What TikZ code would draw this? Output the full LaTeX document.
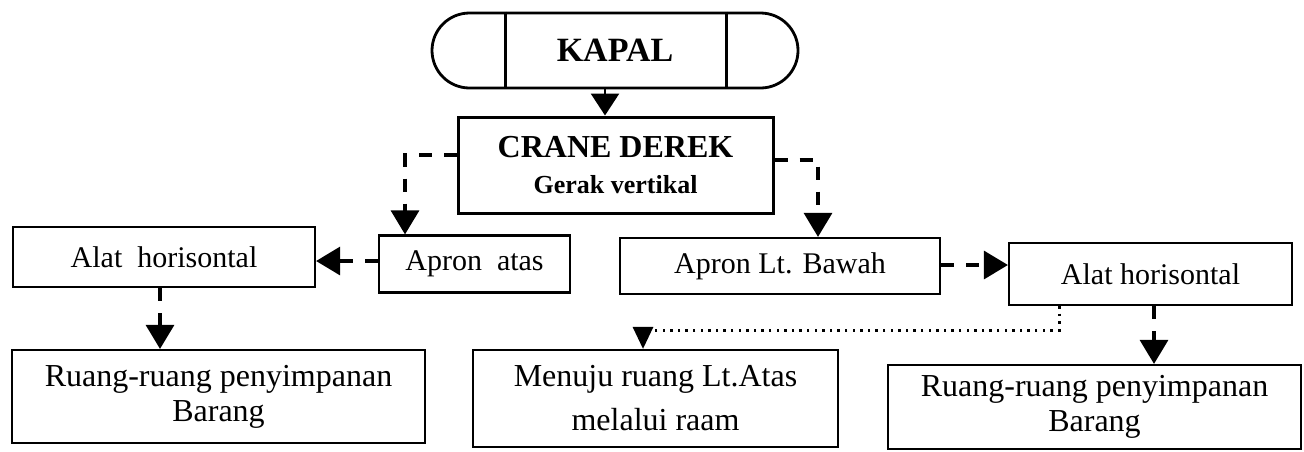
\documentclass[tikz,border=0pt]{standalone}
\usepackage{fontspec}
\setmainfont{Liberation Serif}
\usetikzlibrary{arrows.meta,calc}
\begin{document}
\begin{tikzpicture}[x=0.5pt,y=-0.5pt,
  box/.style={draw, line width=1.1pt, inner sep=0pt, align=center,
    font=\fontsize{15}{18}\selectfont},
  bigtext/.style={font=\fontsize{16}{17.5}\selectfont},
  dsh/.style={line width=1.6pt, dash pattern=on 6.5pt off 6pt,
    -{Triangle[width=14pt,length=12pt]}},
  dots/.style={line width=1.5pt, dash pattern=on 1.2pt off 2.6pt,
    -{Triangle[width=10pt,length=11pt]}},
  solidarr/.style={line width=1.4pt, -{Triangle[width=14pt,length=11pt]}}]
\useasboundingbox (0,0) rectangle (1304,451);

% nodes
\node[box, line width=1.4pt, rounded corners=18.75pt, minimum width=183pt,
  minimum height=37.5pt, font=\fontsize{17}{20}\selectfont\bfseries]
  (kapal) at (615,50.5) {KAPAL};
\draw[line width=1.4pt] ([xshift=37.5pt]kapal.north west) -- ([xshift=37.5pt]kapal.south west);
\draw[line width=1.4pt] ([xshift=-36.5pt]kapal.north east) -- ([xshift=-36.5pt]kapal.south east);

\node[box, line width=1.5pt, minimum width=157.5pt, minimum height=48pt]
  (crane) at (615.5,165)
  {{\fontsize{16}{17}\selectfont\bfseries CRANE DEREK}\\[0pt]
   {\fontsize{13}{17}\selectfont\bfseries Gerak vertikal}};

\node[box, minimum width=151pt, minimum height=30pt] (alatL) at (164,257) {Alat\ \ horisontal};
\node[box, minimum width=95.5pt, minimum height=28.5pt] (apronA) at (474.5,264) {Apron\ \ atas};
\node[box, minimum width=160pt, minimum height=28pt] (apronB) at (780,266) {Apron Lt. Bawah};
\node[box, minimum width=141.5pt, minimum height=31pt] (alatR) at (1150.5,274) {Alat horisontal};

\node[box, bigtext, minimum width=206.5pt, minimum height=46.5pt] (ruangL) at (218.5,396.5)
  {Ruang-ruang penyimpanan\\Barang};
\node[box, font=\fontsize{16}{22}\selectfont, minimum width=182.5pt, minimum height=48.5pt] (menuju) at (655.5,398.5)
  {Menuju ruang Lt.Atas\\melalui raam};
\node[box, bigtext, minimum width=206.5pt, minimum height=42pt] (ruangR) at (1094.5,407)
  {Ruang-ruang penyimpanan\\Barang};

% helper coordinates
\coordinate (k1) at (605,0);
\coordinate (c1) at (405,155);
\coordinate (c2) at (818,160);
\coordinate (y1) at (0,261);
\coordinate (x1) at (160,0);
\coordinate (y2) at (0,265);
\coordinate (d1) at (1059,330);
\coordinate (d2) at (643,330);
\coordinate (x2) at (1154,0);

% connectors
\draw[solidarr] (kapal.south -| k1) -- (crane.north -| k1);
\draw[dsh] (crane.west |- c1) -- (c1) -- (c1 |- apronA.north);
\draw[dsh] (crane.east |- c2) -- (c2) -- (c2 |- apronB.north);
\draw[dsh] (apronA.west |- y1) -- (alatL.east |- y1);
\draw[dsh] (alatL.south -| x1) -- (ruangL.north -| x1);
\draw[dsh] (apronB.east |- y2) -- (alatR.west |- y2);
\draw[dots] (alatR.south -| d1) -- (d1) -- (d2) -- (d2 |- menuju.north);
\draw[dsh] (alatR.south -| x2) -- (ruangR.north -| x2);
\end{tikzpicture}
\end{document}
